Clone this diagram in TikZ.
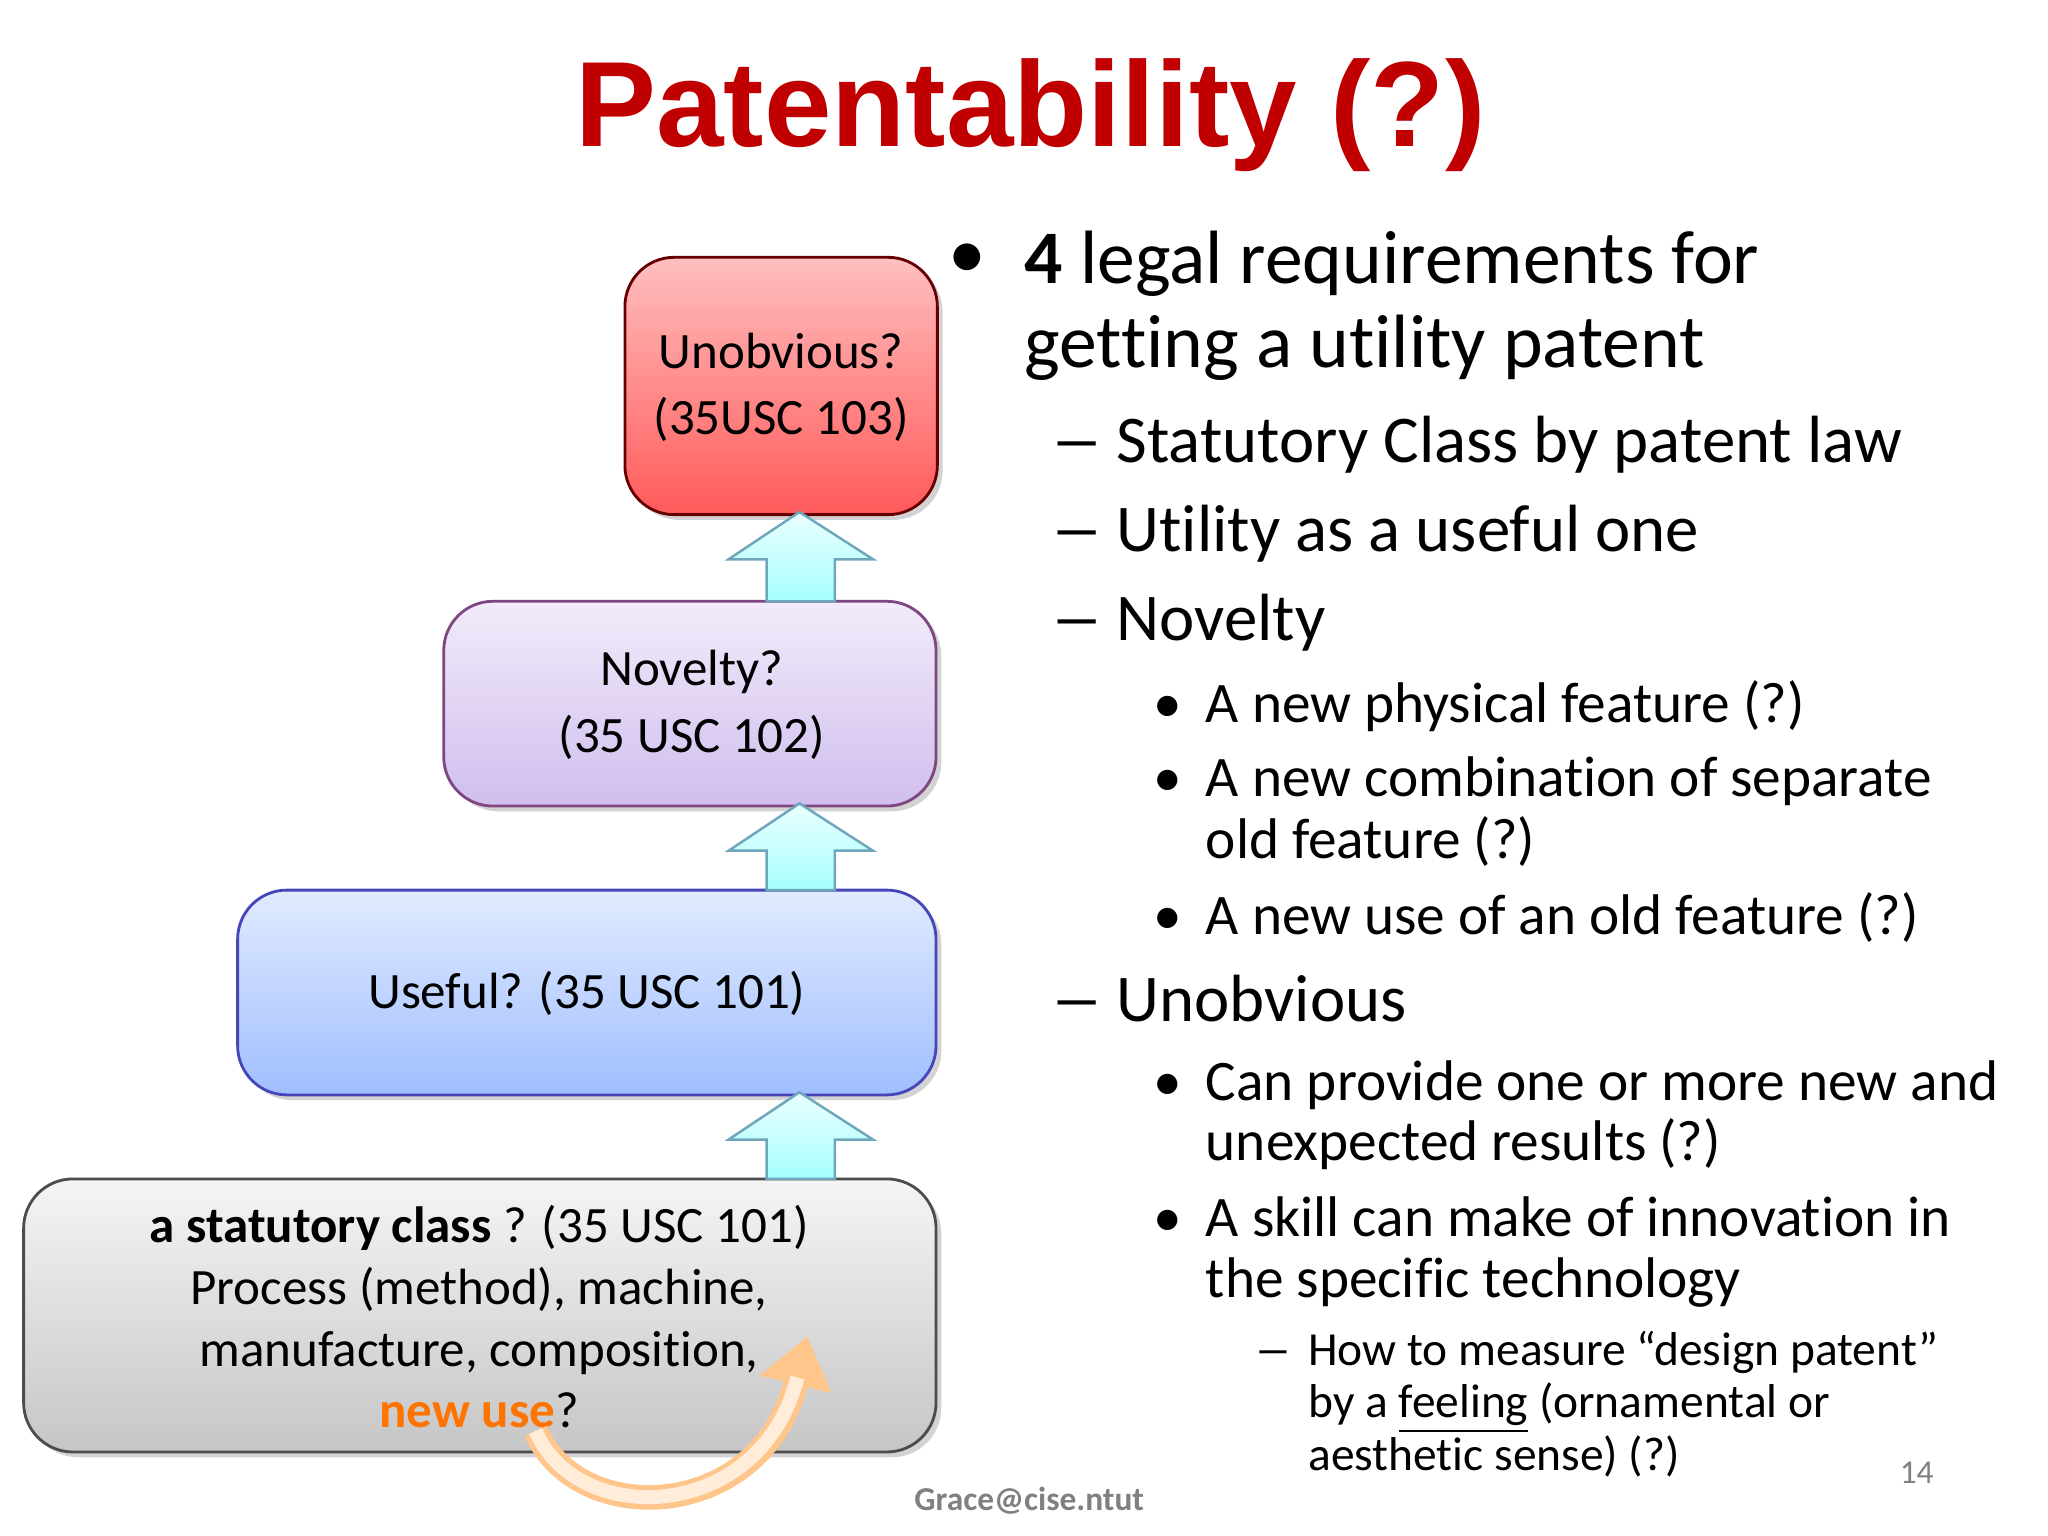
\documentclass[tikz,border=0pt]{standalone}
\usepackage{fontspec}
\usepackage{graphicx}
\setmainfont{Carlito}[Ligatures={NoCommon,NoRare}]
\newfontfamily\titlefont{Liberation Sans}
\usetikzlibrary{shadows,arrows.meta}
\definecolor{titlered}{RGB}{192,0,0}
\definecolor{blbot}{RGB}{160,190,255}
\definecolor{bltop}{RGB}{225,235,255}
\definecolor{vitop}{RGB}{242,235,250}
\definecolor{vibot}{RGB}{208,190,238}
\tikzset{
 box/.style={draw=#1!60!black,line width=0.8pt,rounded corners=14pt,drop shadow={opacity=0.35,shadow xshift=1.5pt,shadow yshift=-1.5pt}},
 up/.style={draw=cyan!60!black!70,line width=0.7pt,top color=cyan!8,bottom color=cyan!35},
 txt/.style={anchor=base west,inner sep=0pt},
 btxt/.style={inner sep=0pt,align=center,font=\fontsize{14.5}{19}\selectfont},
}
\begin{document}
\begin{tikzpicture}[x=0.013128cm,y=-0.013128cm]
\useasboundingbox (0,0) rectangle (1560,1170);
\node[inner sep=0pt,text=titlered] (title) at (785,88) {\titlefont\bfseries\fontsize{34.5}{40}\selectfont Patentability (?)};
% boxes
\filldraw[box=gray,top color=gray!8,bottom color=gray!45] (18,898) rectangle (713,1106);
\filldraw[box=blue,top color=bltop,bottom color=blbot,draw=blue!45!gray] (181,678) rectangle (713,834);
\filldraw[box=violet,top color=vitop,bottom color=vibot,draw=violet!45!gray] (338,458) rectangle (713,614);
\filldraw[box=red,top color=red!25,bottom color=red!65,draw=red!40!black] (476,196) rectangle (714,392);
\node[btxt] (unob) at (595,295) {Unobvious?\\(35USC 103)};
\node[btxt] (nov) at (527,537) {Novelty?\\(35 USC 102)};
\node[btxt] (use) at (447,757) {Useful? (35 USC 101)};
\node[btxt,font=\fontsize{14.5}{17.5}\selectfont] (stat) at (365,1003) {\textbf{a statutory class} ? (35 USC 101)\\Process (method), machine,\\manufacture, composition,\\\textcolor{orange!90!red}{\textbf{new use}}?};
% up arrows
\foreach \t/\b in {390/458,612/678,832/898}{
 \filldraw[up] (584,\b) -- (584,\t+36) -- (555,\t+36) -- (609,\t) -- (665,\t+36) -- (636,\t+36) -- (636,\b) -- cycle;}
% curved arrow
\coordinate (cs) at (408,1090);
\coordinate (ce) at (615,1018);
\draw[line width=7pt,orange!45,-{Triangle[length=14pt,width=20pt]}] (cs) .. controls (440,1165) and (580,1160) .. (ce);
\draw[line width=4pt,orange!15,shorten >=12pt] (cs) .. controls (440,1165) and (580,1160) .. (ce);
% right text
\node[txt,font=\fontsize{21.5}{24}\selectfont] (b0) at (722,212) {•};
\node[txt,font=\fontsize{21.5}{24}\selectfont] (l1) at (780,216) {\textbf{4} legal requirements for};
\node[txt,font=\fontsize{21.5}{24}\selectfont] (l2) at (780,280) {getting a utility patent};
\foreach \y/\s in {352/Statutory Class by patent law,420/Utility as a useful one,488/Novelty,778/Unobvious}{
 \node[txt,font=\fontsize{19}{21}\selectfont] at (800,\y) {\scalebox{1.6}[1]{–}};
 \node[txt,font=\fontsize{19}{21}\selectfont] at (850,\y) {\s};}
\foreach \y/\s in {550/A new physical feature (?),607/A new combination of separate,712/A new use of an old feature (?),838/Can provide one or more new and,942/A skill can make of innovation in}{
 \node[txt,font=\fontsize{16.3}{18}\selectfont] at (878,\y) {•};
 \node[txt,font=\fontsize{16.3}{18}\selectfont] at (918,\y) {\s};}
\foreach \y/\s in {654/old feature (?),884/unexpected results (?),988/the specific technology}{
 \node[txt,font=\fontsize{16.3}{18}\selectfont] at (918,\y) {\s};}
\node[txt,font=\fontsize{13.5}{15}\selectfont] at (955,1040) {\scalebox{1.6}[1]{–}};
\foreach \y/\s in {1040/How to measure “design patent”,1080/by a \underline{feeling} (ornamental or,1120/aesthetic sense) (?)}{
 \node[txt,font=\fontsize{13.5}{15}\selectfont] at (996,\y) {\s};}
\node[text=gray,font=\bfseries\fontsize{9.5}{10}\selectfont,inner sep=0pt] (grace) at (784,1143) {Grace@cise.ntut};
\node[text=gray,font=\fontsize{9.5}{10}\selectfont,inner sep=0pt] (pg) at (1460,1122) {14};
\end{tikzpicture}
\end{document}
